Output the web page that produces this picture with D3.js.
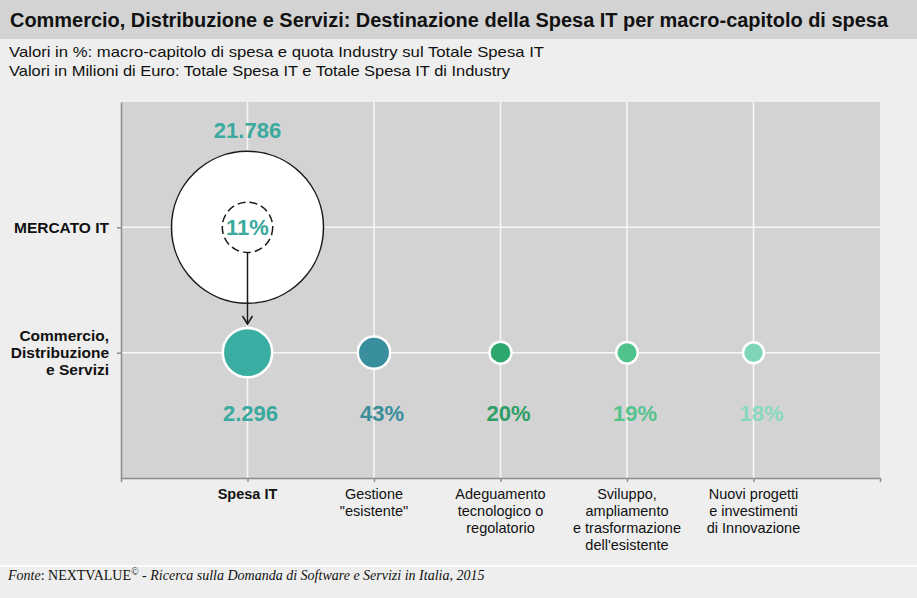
<!DOCTYPE html>
<html>
<head>
<meta charset="utf-8">
<script src="https://cdn.jsdelivr.net/npm/d3@7"></script>
<style>
  html, body { margin: 0; padding: 0; background: #eeeeee; }
  svg { display: block; font-family: "Liberation Sans", Arial, sans-serif; }
</style>
</head>
<body>
<svg id="chart" width="917" height="598"></svg>
<script>
// ---- data ----
const titleText = "Commercio, Distribuzione e Servizi: Destinazione della Spesa IT per macro-capitolo di spesa";
const subtitleLines = [
  "Valori in %: macro-capitolo di spesa e quota Industry sul Totale Spesa IT",
  "Valori in Milioni di Euro: Totale Spesa IT e Totale Spesa IT di Industry"
];
const rowLabels = [
  ["MERCATO IT"],
  ["Commercio,", "Distribuzione", "e Servizi"]
];
const categoryLabels = [
  ["Spesa IT"],
  ["Gestione", "\"esistente\""],
  ["Adeguamento", "tecnologico o", "regolatorio"],
  ["Sviluppo,", "ampliamento", "e trasformazione", "dell'esistente"],
  ["Nuovi progetti", "e investimenti", "di Innovazione"]
];
const marketTotal = 21786;      // Totale Spesa IT (M€)
const industryTotal = 2296;     // Spesa IT Industry (M€)
const industryShare = 11;       // % of market
const chapterShares = [43, 20, 19, 18]; // % of industry spending
const fillColors = ["#3aaea3", "#3a8f9f", "#2ca86c", "#4fc38b", "#7fd6b7"];
const labelColors = ["#3aa99e", "#3a8e9c", "#2f9e66", "#55c38e", "#8ad8bf"];
const footer = { italicA: "Fonte", normal: ": NEXTVALUE", sup: "©", italicB: " - Ricerca sulla Domanda di Software e Servizi in Italia, 2015" };

// ---- setup ----
const svg = d3.select("#chart");
const W = 917, H = 598;
const it = d3.formatLocale({ decimal: ",", thousands: ".", grouping: [3], currency: ["€", ""] });
const fmt = it.format(",d");

svg.append("rect").attr("width", W).attr("height", H).attr("fill", "#eeeeee");
svg.append("rect").attr("width", W).attr("height", 39).attr("fill", "#d3d3d3");

svg.append("text").attr("x", 10).attr("y", 27)
  .attr("font-size", 19.5).attr("font-weight", "bold").attr("fill", "#111")
  .attr("textLength", 878).attr("lengthAdjust", "spacingAndGlyphs")
  .text(titleText);

const subLens = [535, 501];
subtitleLines.forEach((s, i) => {
  svg.append("text").attr("x", 9).attr("y", 57 + i * 19)
    .attr("font-size", 15).attr("fill", "#111")
    .attr("textLength", subLens[i]).attr("lengthAdjust", "spacingAndGlyphs")
    .text(s);
});

// ---- scales ----
const plot = { left: 121, right: 880, top: 102, bottom: 478 };
const catKeys = categoryLabels.map(d => d.join(" "));
const rowKeys = rowLabels.map(d => d.join(" "));
const x = d3.scalePoint().domain(catKeys).range([plot.left, plot.right]).padding(1);
const y = d3.scalePoint().domain(rowKeys).range([plot.top, plot.bottom]).padding(1);
const r = d3.scaleSqrt().domain([0, marketTotal]).range([0, 76]);

// plot background
svg.append("rect").attr("x", plot.left).attr("y", plot.top)
  .attr("width", plot.right - plot.left).attr("height", plot.bottom - plot.top)
  .attr("fill", "#d3d3d3");

// grid
svg.append("g").selectAll("line").data(catKeys).join("line")
  .attr("x1", d => x(d)).attr("x2", d => x(d))
  .attr("y1", plot.top).attr("y2", plot.bottom)
  .attr("stroke", "#f7f7f7").attr("stroke-width", 1.5);
svg.append("g").selectAll("line").data(rowKeys).join("line")
  .attr("y1", d => y(d)).attr("y2", d => y(d))
  .attr("x1", plot.left).attr("x2", plot.right)
  .attr("stroke", "#f7f7f7").attr("stroke-width", 1.5);

// axes
const xAxis = svg.append("g").attr("transform", `translate(0,${plot.bottom})`)
  .call(d3.axisBottom(x).tickSize(4).tickSizeOuter(4).tickFormat(""));
const yAxis = svg.append("g").attr("transform", `translate(${plot.left},0)`)
  .call(d3.axisLeft(y).tickSize(4).tickSizeOuter(0).tickFormat(""));
[xAxis, yAxis].forEach(a => {
  a.selectAll("path, line").attr("stroke", "#8c8c8c").attr("stroke-width", 1.5);
});

// row labels
rowLabels.forEach((lines, i) => {
  const cy = y(rowKeys[i]);
  const n = lines.length;
  const tx = svg.append("text").attr("text-anchor", "end")
    .attr("font-size", 15.5).attr("font-weight", "bold").attr("fill", "#111");
  lines.forEach((l, j) => {
    tx.append("tspan").attr("x", 109).attr("y", cy + 5.5 + (j - (n - 1) / 2) * 17).text(l);
  });
});

// category labels
categoryLabels.forEach((lines, i) => {
  const cx = x(catKeys[i]);
  const tx = svg.append("text").attr("text-anchor", "middle")
    .attr("font-size", 14.5).attr("fill", "#111")
    .attr("font-weight", i === 0 ? "bold" : "normal");
  lines.forEach((l, j) => {
    tx.append("tspan").attr("x", cx).attr("y", 499 + j * 17).text(l);
  });
});

// market bubble
const mx = x(catKeys[0]), my = y(rowKeys[0]), iy = y(rowKeys[1]);
svg.append("circle").attr("cx", mx).attr("cy", my).attr("r", r(marketTotal))
  .attr("fill", "#ffffff").attr("stroke", "#1a1a1a").attr("stroke-width", 1.5);
const innerR = r(marketTotal * industryShare / 100);
svg.append("circle").attr("cx", mx).attr("cy", my).attr("r", innerR)
  .attr("fill", "none").attr("stroke", "#1a1a1a").attr("stroke-width", 1.5)
  .attr("stroke-dasharray", "8,4");
svg.append("text").attr("x", mx).attr("y", my + 8).attr("text-anchor", "middle")
  .attr("font-size", 22).attr("font-weight", "bold").attr("fill", labelColors[0])
  .text(industryShare + "%");
svg.append("text").attr("x", mx).attr("y", 138).attr("text-anchor", "middle")
  .attr("font-size", 22).attr("font-weight", "bold").attr("fill", labelColors[0])
  .text(fmt(marketTotal));

// arrow
const tipY = iy - r(industryTotal) - 4;
svg.append("line").attr("x1", mx).attr("x2", mx)
  .attr("y1", my + innerR).attr("y2", tipY)
  .attr("stroke", "#1a1a1a").attr("stroke-width", 1.5);
svg.append("path")
  .attr("d", `M${mx - 5},${tipY - 8} L${mx},${tipY} L${mx + 5},${tipY - 8}`)
  .attr("fill", "none").attr("stroke", "#1a1a1a").attr("stroke-width", 1.5);

// industry bubbles
const bubbleVals = [industryTotal].concat(chapterShares.map(s => industryTotal * s / 100));
const bubbleLabels = [fmt(industryTotal)].concat(chapterShares.map(s => s + "%"));
svg.append("g").selectAll("circle").data(bubbleVals).join("circle")
  .attr("cx", (d, i) => x(catKeys[i])).attr("cy", iy)
  .attr("r", d => r(d))
  .attr("fill", (d, i) => fillColors[i])
  .attr("stroke", "#ffffff").attr("stroke-width", 2.5);
svg.append("g").selectAll("text").data(bubbleLabels).join("text")
  .attr("x", (d, i) => x(catKeys[i]) + (i === 0 ? 3 : 8)).attr("y", 421)
  .attr("text-anchor", "middle")
  .attr("font-size", 22).attr("font-weight", "bold")
  .attr("fill", (d, i) => labelColors[i])
  .text(d => d);

// footer
svg.append("line").attr("x1", 0).attr("x2", W).attr("y1", 566).attr("y2", 566)
  .attr("stroke", "#fbfbfb").attr("stroke-width", 2);
const ft = svg.append("text").attr("x", 8).attr("y", 580)
  .attr("font-family", "'Liberation Serif', 'Times New Roman', serif")
  .attr("font-size", 14).attr("fill", "#111");
ft.append("tspan").attr("font-style", "italic").text(footer.italicA);
ft.append("tspan").text(footer.normal);
ft.append("tspan").attr("font-size", 10).attr("dy", -5).text(footer.sup);
ft.append("tspan").attr("font-style", "italic").attr("dy", 5).text(footer.italicB);
</script>
</body>
</html>
